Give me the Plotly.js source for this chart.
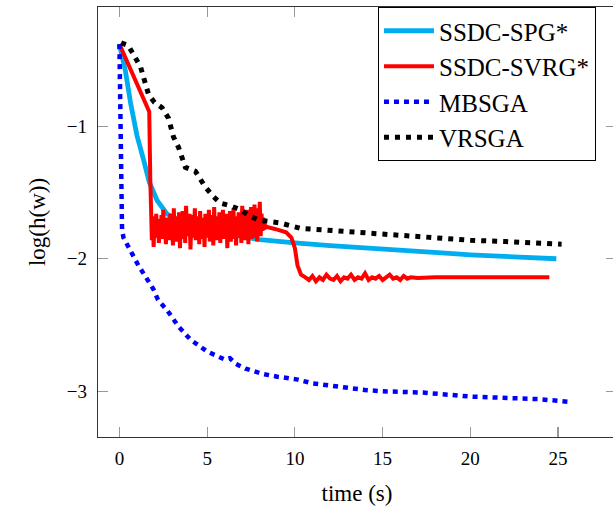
<!DOCTYPE html>
<html>
<head>
<meta charset="utf-8">
<script src="https://cdn.plot.ly/plotly-3.0.1.min.js"></script>
<style>
html,body{margin:0;padding:0;overflow:hidden;background:#fff;}
#chart{width:620px;height:506px;}
</style>
</head>
<body>
<div id="chart"></div>
<script>
// ---- Data ----
const seriesNames = ["SSDC-SPG*", "SSDC-SVRG*", "MBSGA", "VRSGA"];

const spgX = [0, 0.34, 0.63, 0.8, 1.0, 1.37, 1.7, 2.15, 2.7, 3.3, 3.6, 4.5, 5.5, 6.5, 7.5, 8.0, 9.0, 10, 12, 14, 15, 16, 18, 18.8, 20, 22, 24, 24.9];
const spgY = [-0.38, -0.58, -0.82, -0.95, -1.07, -1.25, -1.42, -1.56, -1.66, -1.71, -1.72, -1.76, -1.79, -1.82, -1.845, -1.855, -1.87, -1.88, -1.90, -1.92, -1.93, -1.94, -1.955, -1.96, -1.97, -1.98, -1.99, -2.0];

const svrgX = [0, 1.70, 1.76,
  1.80, 1.85, 1.90, 1.95, 2.00, 2.05, 2.10, 2.15, 2.20, 2.25, 2.30, 2.35, 2.40, 2.45, 2.50, 2.55, 2.60, 2.65, 2.70, 2.75, 2.80, 2.85, 2.90, 2.95,
  3.00, 3.05, 3.10, 3.15, 3.20, 3.25, 3.30, 3.35, 3.40, 3.45, 3.50, 3.55, 3.60, 3.65, 3.70, 3.75, 3.80, 3.85, 3.90, 3.95,
  4.00, 4.05, 4.10, 4.15, 4.20, 4.25, 4.30, 4.35, 4.40, 4.45, 4.50, 4.55, 4.60, 4.65, 4.70, 4.75, 4.80, 4.85, 4.90, 4.95,
  5.00, 5.05, 5.10, 5.15, 5.20, 5.25, 5.30, 5.35, 5.40, 5.45, 5.50, 5.55, 5.60, 5.65, 5.70, 5.75, 5.80, 5.85, 5.90, 5.95,
  6.00, 6.05, 6.10, 6.15, 6.20, 6.25, 6.30, 6.35, 6.40, 6.45, 6.50, 6.55, 6.60, 6.65, 6.70, 6.75, 6.80, 6.85, 6.90, 6.95,
  7.00, 7.05, 7.10, 7.15, 7.20, 7.25, 7.30, 7.35, 7.40, 7.45, 7.50, 7.55, 7.60, 7.65, 7.70, 7.75, 7.80, 7.85, 7.90, 7.95,
  8.00, 8.05, 8.10, 8.15, 8.20, 8.25, 8.30,
  8.4, 8.7, 9.0, 9.5, 9.8, 10.0, 10.15, 10.35, 10.6,
  10.8, 11.0, 11.2, 11.4, 11.6, 11.8, 12.0, 12.2, 12.4, 12.6, 12.8, 13.0, 13.2, 13.4, 13.6, 13.8, 14.0, 14.2, 14.4, 14.6, 14.8, 15.0, 15.2, 15.4, 15.6, 15.8, 16.0, 16.2, 16.4, 16.6,
  17.0, 18.0, 20.0, 22.0, 24.5];
const svrgY = [-0.38, -0.89, -1.40,
  -1.60, -1.86, -1.68, -1.91, -1.72, -1.80, -1.66, -1.84, -1.70, -1.88, -1.74, -1.79, -1.67, -1.85, -1.63, -1.82, -1.71, -1.89, -1.69, -1.78, -1.73, -1.86, -1.66, -1.81,
  -1.70, -1.90, -1.62, -1.83, -1.72, -1.87, -1.68, -1.80, -1.65, -1.92, -1.71, -1.79, -1.64, -1.85, -1.73, -1.88, -1.60, -1.83, -1.69, -1.81,
  -1.66, -1.93, -1.72, -1.84, -1.67, -1.78, -1.62, -1.86, -1.70, -1.82, -1.68, -1.89, -1.64, -1.80, -1.73, -1.85, -1.69, -1.91, -1.66, -1.79,
  -1.71, -1.84, -1.63, -1.87, -1.70, -1.81, -1.67, -1.90, -1.61, -1.83, -1.72, -1.86, -1.68, -1.80, -1.65, -1.88, -1.70, -1.82, -1.63, -1.85,
  -1.71, -1.79, -1.66, -1.92, -1.69, -1.83, -1.64, -1.87, -1.72, -1.80, -1.62, -1.85, -1.68, -1.90, -1.70, -1.81, -1.65, -1.84, -1.71, -1.88,
  -1.60, -1.82, -1.69, -1.86, -1.66, -1.79, -1.63, -1.89, -1.70, -1.83, -1.61, -1.85, -1.67, -1.80, -1.59, -1.84, -1.68, -1.87, -1.62, -1.81,
  -1.57, -1.83, -1.66, -1.79, -1.69, -1.78, -1.75,
  -1.76, -1.77, -1.78, -1.80, -1.84, -1.92, -2.05, -2.12, -2.14,
  -2.16, -2.13, -2.17, -2.14, -2.16, -2.12, -2.15, -2.16, -2.13, -2.17, -2.14, -2.15, -2.12, -2.16, -2.14, -2.15, -2.11, -2.16, -2.14, -2.15, -2.13, -2.16, -2.14, -2.12, -2.15, -2.14, -2.16, -2.13, -2.15, -2.14,
  -2.145, -2.14, -2.14, -2.14, -2.14];

const mbsgaX = [0, 0.08, 0.15, 0.23, 0.5, 0.8, 1.08, 1.37, 1.94, 2.2, 2.73, 3.36, 4.05, 5.0, 5.6, 6.0, 6.3, 6.6, 7.2, 8.2, 9.0, 10.1, 11.0, 12.6, 14.0, 15.0, 17.3, 20.0, 22.4, 24.0, 25.6];
const mbsgaY = [-0.38, -1.0, -1.78, -1.84, -1.91, -1.97, -2.05, -2.11, -2.23, -2.31, -2.39, -2.51, -2.61, -2.70, -2.74, -2.76, -2.75, -2.79, -2.83, -2.87, -2.89, -2.91, -2.94, -2.97, -2.99, -3.0, -3.01, -3.04, -3.05, -3.06, -3.08];

const vrsgaX = [0.1, 0.5, 1.2, 1.66, 2.0, 2.43, 2.8, 3.08, 3.37, 3.76, 4.33, 4.9, 5.35, 5.75, 6.32, 6.9, 7.46, 8.0, 8.6, 9.17, 10.3, 11.4, 12.6, 14.1, 15.6, 17.0, 18.7, 20.0, 22.0, 24.0, 25.2];
const vrsgaY = [-0.37, -0.39, -0.55, -0.76, -0.82, -0.86, -0.94, -1.08, -1.16, -1.31, -1.34, -1.46, -1.53, -1.58, -1.60, -1.63, -1.68, -1.71, -1.72, -1.73, -1.77, -1.78, -1.80, -1.81, -1.82, -1.84, -1.85, -1.86, -1.87, -1.88, -1.89];

const xTicks = [0, 5, 10, 15, 20, 25];
const yTicks = [-3, -2, -1];
const xTitle = "time (s)";
const yTitle = "log(h(w))";

// ---- Traces ----
const serif = "Liberation Serif, Times New Roman, serif";
const traces = [
  {x: spgX, y: spgY, name: seriesNames[0], mode: "lines", line: {color: "#00AEEF", width: 4.8}},
  {x: svrgX, y: svrgY, name: seriesNames[1], mode: "lines", line: {color: "#FF0000", width: 4, simplify: false}},
  {x: mbsgaX, y: mbsgaY, name: seriesNames[2], mode: "lines", line: {color: "#0000FF", width: 4.5, dash: "5px,5px"}},
  {x: vrsgaX, y: vrsgaY, name: seriesNames[3], mode: "lines", line: {color: "#000000", width: 5, dash: "5px,6px"}}
];

const axisCommon = {
  showgrid: false, zeroline: false,
  showline: true, linecolor: "#333", linewidth: 1.3, mirror: "ticks",
  ticks: "inside", ticklen: 10, tickwidth: 1.2, tickcolor: "#999",
  tickfont: {family: serif, size: 19, color: "#000"}
};

const layout = {
  width: 620, height: 506,
  margin: {l: 98, r: 4, t: 7, b: 69},
  paper_bgcolor: "#fff", plot_bgcolor: "#fff",
  xaxis: Object.assign({}, axisCommon, {
    range: [-1.22, 28.3], tickvals: xTicks, ticktext: xTicks.map(String),
    ticklabelstandoff: 4,
    title: {text: xTitle, font: {family: serif, size: 23, color: "#000"}, standoff: 22}
  }),
  yaxis: Object.assign({}, axisCommon, {
    range: [-3.345, -0.1], tickvals: yTicks, ticktext: yTicks.map(v => "\u2212" + Math.abs(v)),
    ticklabelstandoff: 6,
    title: {text: yTitle, font: {family: serif, size: 23, color: "#000"}, standoff: 14}
  }),
  showlegend: true,
  legend: {
    x: 0.5405, y: 1, xanchor: "left", yanchor: "top",
    bgcolor: "#fff", bordercolor: "#000", borderwidth: 1,
    font: {family: serif, size: 25, color: "#000"},
    itemwidth: 50, tracegroupgap: 0
  }
};

Plotly.newPlot("chart", traces, layout, {staticPlot: true, displayModeBar: false});
</script>
</body>
</html>
